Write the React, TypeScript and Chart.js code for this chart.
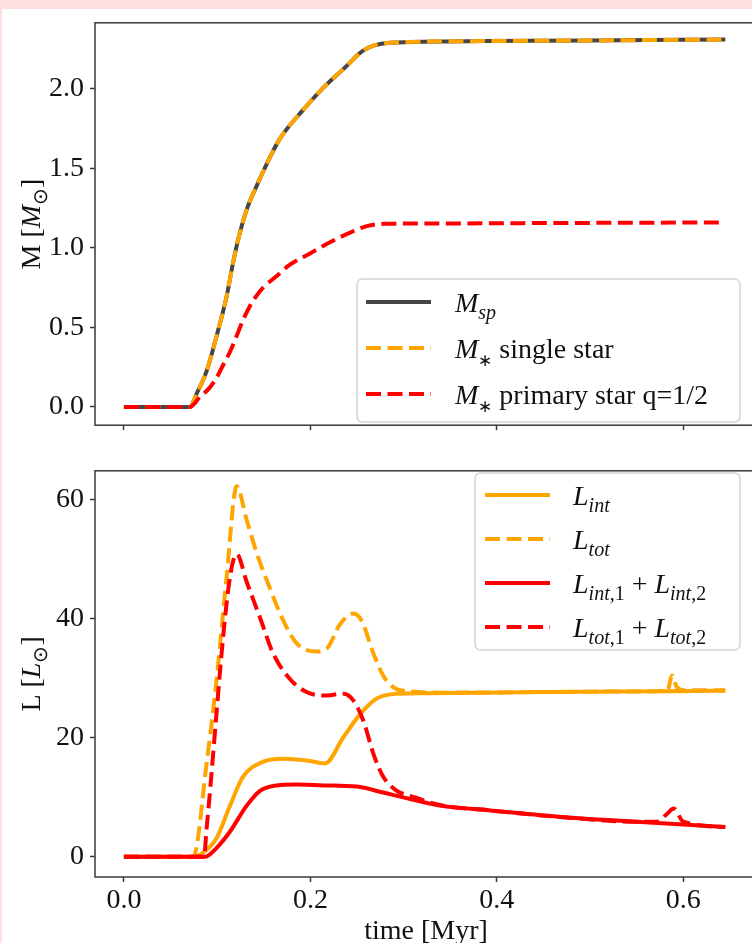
import React, { useEffect, useRef } from 'react';
import { Chart, registerables } from 'chart.js';

Chart.register(...registerables);

const FONT = "'Liberation Serif', 'Times New Roman', serif";

// ---------- tick values ----------
const timeTicks = [0, 0.2, 0.4, 0.6];
const massTicks = [0, 0.5, 1.0, 1.5, 2.0];
const lumTicks = [0, 20, 40, 60];

// ---------- top panel: masses ----------
const tMass = [0, 0.0708, 0.078, 0.0887, 0.0995, 0.110, 0.1173, 0.1227, 0.1317, 0.1424, 0.153, 0.167, 0.192, 0.214, 0.2426, 0.2497, 0.257, 0.2676, 0.2855, 0.386, 0.50, 0.645];
const mSp = [0, 0, 0.083, 0.225, 0.448, 0.69, 0.914, 1.056, 1.24, 1.39, 1.525, 1.684, 1.866, 2.008, 2.165, 2.208, 2.242, 2.272, 2.29, 2.300, 2.304, 2.31];
const mSingle = [0, 0, 0.083, 0.225, 0.448, 0.69, 0.914, 1.056, 1.24, 1.39, 1.525, 1.684, 1.866, 2.008, 2.165, 2.208, 2.242, 2.272, 2.29, 2.300, 2.304, 2.31];
const tPrimary = [0, 0.0708, 0.0816, 0.0923, 0.0995, 0.1066, 0.1138, 0.121, 0.128, 0.1352, 0.1424, 0.1495, 0.1639, 0.178, 0.1996, 0.221, 0.2426, 0.2605, 0.2783, 0.321, 0.45, 0.645];
const mPrimary = [0, 0, 0.063, 0.123, 0.184, 0.265, 0.347, 0.448, 0.549, 0.635, 0.70, 0.752, 0.823, 0.894, 0.965, 1.035, 1.096, 1.137, 1.151, 1.153, 1.156, 1.16];

// ---------- bottom panel: luminosities ----------
const tLint = [0, 0.075, 0.085, 0.0995, 0.1138, 0.128, 0.1495, 0.171, 0.196, 0.2157, 0.2354, 0.253, 0.2712, 0.2927, 0.321, 0.45, 0.645];
const lInt = [0, 0, 0.7, 3.16, 8.6, 13.5, 16.0, 16.5, 16.2, 15.7, 20.1, 23.9, 26.6, 27.4, 27.5, 27.7, 27.9];

const tLtot = [0, 0.0744, 0.0887, 0.0995, 0.110, 0.121, 0.1317, 0.1424, 0.1567, 0.171, 0.1853, 0.2068, 0.2176, 0.2318, 0.2461, 0.255, 0.2676, 0.2783, 0.289, 0.307, 0.35, 0.45, 0.55, 0.583, 0.588, 0.593, 0.60, 0.645];
const lTot = [0, 0, 15.7, 29.9, 46.8, 62.3, 56.6, 51.1, 45.1, 39.7, 35.9, 34.5, 35.0, 39.1, 40.9, 39.7, 34.2, 30.4, 28.5, 27.8, 27.6, 27.7, 27.8, 28.0, 30.5, 28.5, 28.0, 28.0];

const tLint12 = [0, 0.087, 0.0995, 0.1138, 0.1317, 0.146, 0.164, 0.1853, 0.214, 0.2497, 0.278, 0.307, 0.339, 0.393, 0.468, 0.55, 0.645];
const lInt12 = [0, 0, 1.5, 4.25, 8.6, 11.1, 12.0, 12.15, 12.0, 11.8, 10.8, 9.7, 8.6, 7.8, 6.7, 5.9, 5.0];

const tLtot12 = [0, 0.086, 0.0887, 0.121, 0.1317, 0.146, 0.160, 0.178, 0.196, 0.214, 0.2354, 0.246, 0.257, 0.2676, 0.278, 0.2927, 0.307, 0.339, 0.393, 0.468, 0.55, 0.5716, 0.5824, 0.5896, 0.600, 0.645];
const lTot12 = [0, 0, 4.8, 50.9, 46.2, 40.2, 34.2, 29.9, 27.7, 27.1, 27.4, 26.3, 22.8, 17.3, 13.5, 11.1, 10.25, 8.7, 7.8, 6.7, 5.9, 5.9, 7.2, 8.1, 5.9, 5.0];

// ---------- labels ----------
const massLabels = ['$M_{sp}$', '$M_{∗}$ single star', '$M_{∗}$ primary star q=1/2'];
const lumLabels = ['$L_{int}$', '$L_{tot}$', '$L_{int,1} + L_{int,2}$', '$L_{tot,1} + L_{tot,2}$'];
const massTitle = 'M [$M_{⊙}$]';
const lumTitle = 'L [$L_{⊙}$]';
const timeTitle = 'time [Myr]';

// ---------- styles ----------
const DASH = [15, 6.5];
const massStyles = [
  { color: '#454545', dash: [] as number[] },
  { color: '#ffa500', dash: DASH },
  { color: '#ff0000', dash: DASH },
];
const lumStyles = [
  { color: '#ffa500', dash: [] as number[] },
  { color: '#ffa500', dash: DASH },
  { color: '#ff0000', dash: [] as number[] },
  { color: '#ff0000', dash: DASH },
];

type Seg = { t: string; italic: boolean; sub: boolean };
function parseRich(s: string): Seg[] {
  const out: Seg[] = [];
  let math = false;
  const push = (t: string, italic: boolean, sub: boolean) => {
    const last = out[out.length - 1];
    if (last && last.italic === italic && last.sub === sub) last.t += t;
    else out.push({ t, italic, sub });
  };
  let i = 0;
  while (i < s.length) {
    const c = s[i];
    if (c === '$') { math = !math; i++; continue; }
    if (math && c === '_') {
      let j = i + 1;
      let content = '';
      if (s[j] === '{') {
        j++;
        while (j < s.length && s[j] !== '}') { content += s[j]; j++; }
        j++;
      } else { content = s[j]; j++; }
      for (const ch of content) push(ch, /[A-Za-z]/.test(ch), true);
      i = j;
      continue;
    }
    push(c, math && /[A-Za-z]/.test(c), false);
    i++;
  }
  return out;
}

function drawRich(ctx: CanvasRenderingContext2D, str: string, x: number, y: number, size: number, align: 'left' | 'center' = 'left') {
  const segs = parseRich(str);
  const subSize = (s: Seg) => (s.t === '∗' ? Math.round(size * 0.62) : Math.round(size * 0.7));
  const fontFor = (s: Seg) => `${s.italic ? 'italic ' : ''}${s.sub ? subSize(s) : size}px ${FONT}`;
  let w = 0;
  for (const s of segs) { ctx.font = fontFor(s); w += ctx.measureText(s.t).width; }
  let cx = align === 'center' ? x - w / 2 : x;
  ctx.textAlign = 'left';
  ctx.textBaseline = 'alphabetic';
  for (const s of segs) {
    ctx.font = fontFor(s);
    const dy = s.sub ? (s.t === '∗' ? size * 0.3 : size * 0.25) : 0;
    ctx.fillText(s.t, cx, y + dy);
    cx += ctx.measureText(s.t).width;
  }
}

type PanelCfg = {
  labels: string[];
  styles: { color: string; dash: number[] }[];
  box: [number, number, number, number];
  rows: number[];
  sampleX: [number, number];
  textX: number;
  yTitle: string;
  xTitle?: string;
  xTitleY?: number;
};

function panelPlugin(cfg: PanelCfg) {
  return {
    id: 'panelDecor',
    afterDraw(chart: any) {
      const ctx: CanvasRenderingContext2D = chart.ctx;
      const a = chart.chartArea;
      ctx.save();
      // frame
      ctx.strokeStyle = '#3a3a3a';
      ctx.lineWidth = 1.5;
      ctx.setLineDash([]);
      ctx.strokeRect(a.left, a.top, a.right - a.left, a.bottom - a.top);
      // y title
      ctx.fillStyle = '#111';
      ctx.save();
      ctx.translate(40, (a.top + a.bottom) / 2);
      ctx.rotate(-Math.PI / 2);
      drawRich(ctx, cfg.yTitle, 0, 0, 28, 'center');
      ctx.restore();
      // x title
      if (cfg.xTitle) {
        drawRich(ctx, cfg.xTitle, (a.left + a.right) / 2, cfg.xTitleY as number, 28, 'center');
      }
      // legend
      const [bx0, by0, bx1, by1] = cfg.box;
      const r = 6;
      ctx.beginPath();
      ctx.moveTo(bx0 + r, by0);
      ctx.lineTo(bx1 - r, by0);
      ctx.quadraticCurveTo(bx1, by0, bx1, by0 + r);
      ctx.lineTo(bx1, by1 - r);
      ctx.quadraticCurveTo(bx1, by1, bx1 - r, by1);
      ctx.lineTo(bx0 + r, by1);
      ctx.quadraticCurveTo(bx0, by1, bx0, by1 - r);
      ctx.lineTo(bx0, by0 + r);
      ctx.quadraticCurveTo(bx0, by0, bx0 + r, by0);
      ctx.closePath();
      ctx.fillStyle = 'rgba(255,255,255,0.8)';
      ctx.fill();
      ctx.strokeStyle = '#d4d4d4';
      ctx.lineWidth = 1.5;
      ctx.stroke();
      cfg.labels.forEach((lab, i) => {
        const st = cfg.styles[i];
        const yy = cfg.rows[i];
        ctx.beginPath();
        ctx.setLineDash(st.dash);
        ctx.lineCap = 'butt';
        ctx.strokeStyle = st.color;
        ctx.lineWidth = 4;
        ctx.moveTo(cfg.sampleX[0], yy);
        ctx.lineTo(cfg.sampleX[1], yy);
        ctx.stroke();
        ctx.setLineDash([]);
        ctx.fillStyle = '#111';
        drawRich(ctx, lab, cfg.textX, yy + 10, 28, 'left');
      });
      ctx.restore();
    },
  };
}

function toPoints(t: number[], v: number[]) {
  return t.map((x, i) => ({ x, y: v[i] }));
}

function makeDataset(label: string, t: number[], v: number[], style: { color: string; dash: number[] }, order: number) {
  return {
    label,
    data: toPoints(t, v),
    borderColor: style.color,
    backgroundColor: style.color,
    borderDash: style.dash,
    borderWidth: 4,
    borderCapStyle: 'butt' as const,
    borderJoinStyle: 'round' as const,
    pointRadius: 0,
    fill: false,
    cubicInterpolationMode: 'monotone' as const,
    order,
  };
}

const tickFont = { family: FONT, size: 28 };

function xScale(showLabels: boolean, height: number) {
  return {
    type: 'linear' as const,
    min: -0.031,
    max: 0.679,
    afterFit: (s: any) => { s.height = height; },
    afterBuildTicks: (s: any) => { s.ticks = timeTicks.map((value) => ({ value })); },
    grid: { display: true, drawOnChartArea: false, drawTicks: true, tickLength: 5, tickWidth: 1.5, tickColor: '#3a3a3a' },
    border: { display: false },
    ticks: { display: showLabels, font: tickFont, color: '#111', padding: 2, maxRotation: 0, callback: (v: any) => Number(v).toFixed(1) },
  };
}

function yScale(min: number, max: number, ticks: number[], digits: number) {
  return {
    type: 'linear' as const,
    min,
    max,
    afterFit: (s: any) => { s.width = 95; },
    afterBuildTicks: (s: any) => { s.ticks = ticks.map((value) => ({ value })); },
    grid: { display: true, drawOnChartArea: false, drawTicks: true, tickLength: 5, tickWidth: 1.5, tickColor: '#3a3a3a' },
    border: { display: false },
    ticks: { font: tickFont, color: '#111', padding: 6, callback: (v: any) => Number(v).toFixed(digits) },
  };
}

export default function App() {
  const topRef = useRef<HTMLCanvasElement>(null);
  const botRef = useRef<HTMLCanvasElement>(null);

  useEffect(() => {
    const massSeries = [
      [tMass, mSp],
      [tMass, mSingle],
      [tPrimary, mPrimary],
    ];
    const top = new Chart(topRef.current as HTMLCanvasElement, {
      type: 'line',
      data: {
        datasets: massSeries.map(([t, v], i) => makeDataset(massLabels[i], t, v, massStyles[i], massSeries.length - i)),
      },
      options: {
        responsive: false,
        animation: false,
        events: [],
        layout: { padding: { left: 0, top: 18, right: 43, bottom: 0 } },
        plugins: { legend: { display: false }, tooltip: { enabled: false } },
        scales: {
          x: xScale(false, 11),
          y: yScale(-0.115, 2.415, massTicks, 1),
        },
      } as any,
      plugins: [panelPlugin({
        labels: massLabels,
        styles: massStyles,
        box: [357, 279, 740, 422],
        rows: [302, 348, 394],
        sampleX: [366, 431],
        textX: 455,
        yTitle: massTitle,
      })],
    });

    const lumSeries = [
      [tLint, lInt],
      [tLtot, lTot],
      [tLint12, lInt12],
      [tLtot12, lTot12],
    ];
    const bot = new Chart(botRef.current as HTMLCanvasElement, {
      type: 'line',
      data: {
        datasets: lumSeries.map(([t, v], i) => makeDataset(lumLabels[i], t, v, lumStyles[i], lumSeries.length - i)),
      },
      options: {
        responsive: false,
        animation: false,
        events: [],
        layout: { padding: { left: 0, top: 11, right: 43, bottom: 0 } },
        plugins: { legend: { display: false }, tooltip: { enabled: false } },
        scales: {
          x: xScale(true, 66),
          y: yScale(-3.4, 64.9, lumTicks, 0),
        },
      } as any,
      plugins: [panelPlugin({
        labels: lumLabels,
        styles: lumStyles,
        box: [475, 25, 740, 202],
        rows: [47, 91, 135, 179],
        sampleX: [485, 550],
        textX: 573,
        yTitle: lumTitle,
        xTitle: timeTitle,
        xTitleY: 491,
      })],
    });

    return () => {
      top.destroy();
      bot.destroy();
    };
  }, []);

  return (
    <div style={{ position: 'fixed', left: 0, top: 0, width: 752, height: 943, overflow: 'hidden', background: '#fde1de' }}>
      <div style={{ position: 'absolute', left: 2, top: 9, right: 0, bottom: 0, background: '#ffffff' }} />
      <canvas ref={topRef} width={800} height={448} style={{ position: 'absolute', left: 0, top: 0 }} />
      <canvas ref={botRef} width={800} height={495} style={{ position: 'absolute', left: 0, top: 448 }} />
    </div>
  );
}
